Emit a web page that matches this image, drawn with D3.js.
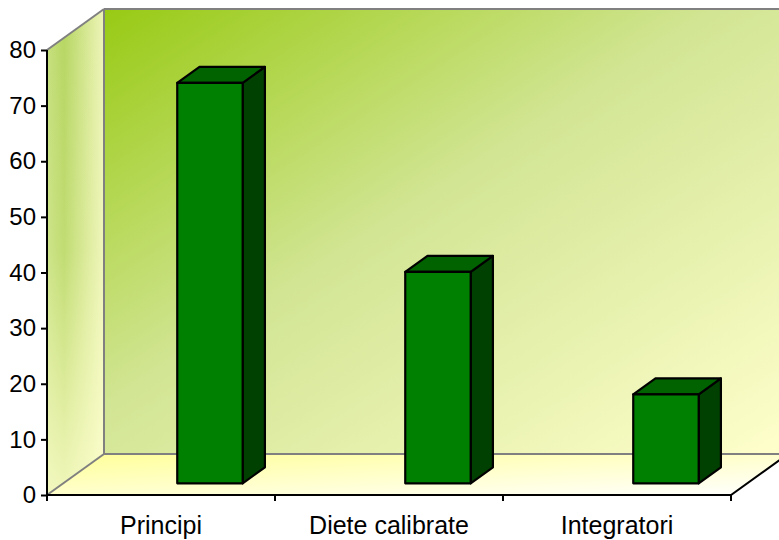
<!DOCTYPE html>
<html>
<head>
<meta charset="utf-8">
<script src="https://cdn.jsdelivr.net/npm/d3@7"></script>
<style>
  html, body { margin: 0; padding: 0; background: #ffffff; }
  svg { display: block; }
  text { font-family: Arial, "Liberation Sans", sans-serif; fill: #000; }
</style>
</head>
<body>
<svg id="chart" width="779" height="540"></svg>
<script>
// Survey answers per category
const categories = ["Principi", "Diete calibrate", "Integratori"];
const values = [72, 38, 16];
const yTicks = [0, 10, 20, 30, 40, 50, 60, 70, 80];

const W = 779, H = 540;
const svg = d3.select("#chart");

// Front plane scales
const x = d3.scaleBand().domain(categories).range([47, 731]).padding(0);
const y = d3.scaleLinear().domain([0, 80]).range([495, 50]);

// Oblique depth projection: z in [0,1] shifts right and up
const depthX = 57, depthY = -41;
const P = (px, v, z) => [px + z * depthX, y(v) + z * depthY];

const defs = svg.append("defs");

const wallGrad = defs.append("linearGradient").attr("id", "wallGrad")
  .attr("x1", 0).attr("y1", 0).attr("x2", 1).attr("y2", 1);
wallGrad.append("stop").attr("offset", 0).attr("stop-color", "#98ca14");
wallGrad.append("stop").attr("offset", 0.45).attr("stop-color", "#d2e594");
wallGrad.append("stop").attr("offset", 1).attr("stop-color", "#ffffcc");

const sideGrad = defs.append("linearGradient").attr("id", "sideGrad")
  .attr("x1", 0).attr("y1", 0).attr("x2", 1).attr("y2", 0);
sideGrad.append("stop").attr("offset", 0).attr("stop-color", "#c6e07e");
sideGrad.append("stop").attr("offset", 0.3).attr("stop-color", "#b6d662");
sideGrad.append("stop").attr("offset", 1).attr("stop-color", "#eef5b8");

const sideFade = defs.append("linearGradient").attr("id", "sideFade")
  .attr("x1", 0).attr("y1", 0).attr("x2", 0).attr("y2", 1);
sideFade.append("stop").attr("offset", 0).attr("stop-color", "#ffffd0").attr("stop-opacity", 0);
sideFade.append("stop").attr("offset", 0.5).attr("stop-color", "#ffffd0").attr("stop-opacity", 0.15);
sideFade.append("stop").attr("offset", 1).attr("stop-color", "#ffffd0").attr("stop-opacity", 0.8);

const floorGrad = defs.append("linearGradient").attr("id", "floorGrad")
  .attr("x1", 0).attr("y1", 0).attr("x2", 1).attr("y2", 1);
floorGrad.append("stop").attr("offset", 0).attr("stop-color", "#ffff99");
floorGrad.append("stop").attr("offset", 1).attr("stop-color", "#ffffff");

const poly = pts => "M" + pts.map(p => p.join(",")).join("L") + "Z";
const x0 = x.range()[0], x1 = x.range()[1];

// Back wall
svg.append("path")
  .attr("d", poly([P(x0, 80, 1), P(x1, 80, 1), P(x1, 0, 1), P(x0, 0, 1)]))
  .attr("fill", "url(#wallGrad)");

// Side wall
svg.append("path")
  .attr("d", poly([P(x0, 80, 0), P(x0, 80, 1), P(x0, 0, 1), P(x0, 0, 0)]))
  .attr("fill", "url(#sideGrad)");
svg.append("path")
  .attr("d", poly([P(x0, 80, 0), P(x0, 80, 1), P(x0, 0, 1), P(x0, 0, 0)]))
  .attr("fill", "url(#sideFade)");

// Floor
svg.append("path")
  .attr("d", poly([P(x0, 0, 0), P(x0, 0, 1), P(x1, 0, 1), P(x1, 0, 0)]))
  .attr("fill", "url(#floorGrad)");

// Wall edges (gray)
const edge = (a, b) => svg.append("line")
  .attr("x1", a[0]).attr("y1", a[1]).attr("x2", b[0]).attr("y2", b[1])
  .attr("stroke", "#808080").attr("stroke-width", 2);
edge(P(x0, 80, 0), P(x0, 80, 1));
edge(P(x0, 80, 1), P(x1, 80, 1));
edge(P(x0, 80, 1), P(x0, 0, 1));
edge(P(x0, 0, 1), P(x1, 0, 1));
edge(P(x0, 0, 0), P(x0, 0, 1));

// Bars
const zFront = 0.285, zBack = 0.675;
const barW = x.bandwidth() * 0.287;
const bars = svg.append("g").selectAll("g")
  .data(categories.map((c, i) => ({ c, v: values[i] })))
  .join("g");

bars.each(function (d) {
  const g = d3.select(this);
  const l = x(d.c) + x.bandwidth() / 2, r = l + barW;
  const fp = (px, v) => P(px, v, zFront);
  const bp = (px, v) => P(px, v, zBack);
  // side
  g.append("path")
    .attr("d", poly([fp(r, d.v), bp(r, d.v), bp(r, 0), fp(r, 0)]))
    .attr("fill", "#004000").attr("stroke", "#000").attr("stroke-width", 2.2)
    .attr("stroke-linejoin", "round");
  // top
  g.append("path")
    .attr("d", poly([fp(l, d.v), bp(l, d.v), bp(r, d.v), fp(r, d.v)]))
    .attr("fill", "#006300").attr("stroke", "#000").attr("stroke-width", 2.2)
    .attr("stroke-linejoin", "round");
  // front
  g.append("path")
    .attr("d", poly([fp(l, d.v), fp(r, d.v), fp(r, 0), fp(l, 0)]))
    .attr("fill", "#008000").attr("stroke", "#000").attr("stroke-width", 2.2)
    .attr("stroke-linejoin", "round");
});

// Floor front and right edges (black)
svg.append("path")
  .attr("d", "M" + P(x0, 0, 0).join(",") + "L" + P(x1, 0, 0).join(",") + "L" + P(x1, 0, 1).join(","))
  .attr("fill", "none").attr("stroke", "#000").attr("stroke-width", 2);

// Value axis
const yAxis = d3.axisLeft(y).tickValues(yTicks).tickSize(6).tickPadding(5);
const ya = svg.append("g").attr("transform", `translate(${x0},0)`).call(yAxis);
ya.select(".domain").attr("stroke", "#000").attr("stroke-width", 2)
  .attr("d", `M0,${y(80)}V${y(0)}`);
ya.selectAll(".tick line").attr("stroke", "#000").attr("stroke-width", 2);
ya.selectAll(".tick text").attr("font-size", 24).attr("font-family", "Arial, 'Liberation Sans', sans-serif")
  .attr("fill", "#000");

// Category axis
const xa = svg.append("g").attr("transform", `translate(0,${y(0)})`)
  .call(d3.axisBottom(x).tickSize(0).tickPadding(0));
xa.select(".domain").remove();
xa.selectAll(".tick text").attr("font-size", 25).attr("dy", "1.55em")
  .attr("font-family", "Arial, 'Liberation Sans', sans-serif").attr("fill", "#000");

// Category boundary ticks
svg.append("g").selectAll("line")
  .data(d3.range(categories.length + 1))
  .join("line")
  .attr("x1", i => x0 + i * x.step()).attr("x2", i => x0 + i * x.step())
  .attr("y1", y(0)).attr("y2", y(0) + 6)
  .attr("stroke", "#000").attr("stroke-width", 2);
</script>
</body>
</html>
